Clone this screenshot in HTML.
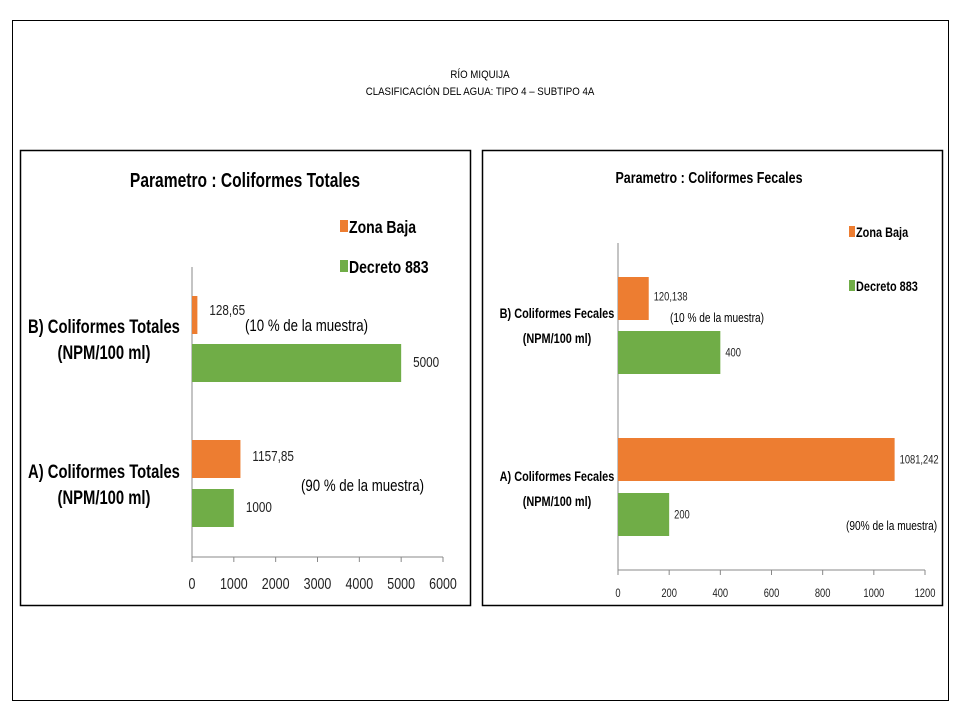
<!DOCTYPE html>
<html><head><meta charset="utf-8"><style>
body{margin:0;background:#fff;}
svg{display:block;font-family:"Liberation Sans Narrow","Liberation Sans",sans-serif;}
</style></head><body>
<svg id="s" width="960" height="720" viewBox="0 0 960 720">
<rect x="12.5" y="20.5" width="936" height="680" fill="#fff" stroke="#000" stroke-width="1"/>
<text x="480" y="78" font-size="11" text-anchor="middle" transform="translate(480,0) scale(0.88,1) translate(-480,0)">RÍO MIQUIJA</text>
<text x="480" y="95" font-size="11" text-anchor="middle" transform="translate(480,0) scale(0.88,1) translate(-480,0)">CLASIFICACIÓN DEL AGUA: TIPO 4 – SUBTIPO 4A</text>
<rect x="20.5" y="150.5" width="450" height="455" fill="#fff" stroke="#000" stroke-width="1.5"/>
<rect x="482.5" y="150.5" width="460" height="455" fill="#fff" stroke="#000" stroke-width="1.5"/>
<g id="c1"></g><g id="c2"></g>
</svg>
<script>
const NS="http://www.w3.org/2000/svg";
// Chart 1 data
const cats1=["B) Coliformes Totales","A) Coliformes Totales"];
const zona1=[128.65,1157.85];
const decreto1=[5000,1000];
const zonaLbl1=["128,65","1157,85"];
const decretoLbl1=["5000","1000"];
const ticks1=[0,1000,2000,3000,4000,5000,6000];
// Chart 2 data
const cats2=["B) Coliformes Fecales","A) Coliformes Fecales"];
const zona2=[120.138,1081.242];
const decreto2=[400,200];
const zonaLbl2=["120,138","1081,242"];
const decretoLbl2=["400","200"];
const ticks2=[0,200,400,600,800,1000,1200];

const K=0.78;
function mk(parent,tag,attrs,text){const e=document.createElementNS(NS,tag);for(const k in attrs)e.setAttribute(k,attrs[k]);if(text!==undefined){e.textContent=text;const x=+attrs.x;e.setAttribute("transform",`translate(${x},0) scale(${K},1) translate(${-x},0)`);}parent.appendChild(e);return e;}

function chart(g,cfg){
  const x=v=>cfg.x0+(v/cfg.max)*(cfg.x1-cfg.x0);
  const ax=mk(g,"line",{x1:cfg.x0,y1:cfg.top,x2:cfg.x0,y2:cfg.bot,stroke:"#888"});
  
  
  const bx=mk(g,"line",{x1:cfg.x0,y1:cfg.bot,x2:cfg.x1,y2:cfg.bot,stroke:"#888"});
  
  
  cfg.ticks.forEach(t=>{
    const tl=mk(g,"line",{x1:x(t),y1:cfg.bot,x2:x(t),y2:cfg.bot+5,stroke:"#888"});
    
    
    const tt=mk(g,"text",{x:x(t),y:cfg.tickY,"font-size":cfg.tickFs,"text-anchor":"middle",fill:"#222"},String(t));
    
    
  });
  cfg.cats.forEach((c,i)=>{
    const zy=cfg.zy[i],dy=cfg.dy[i];
    const zb=mk(g,"rect",{x:cfg.x0,y:zy,width:x(cfg.zona[i])-cfg.x0,height:cfg.bh,fill:"#ED7D31"});
    
    
    const db=mk(g,"rect",{x:cfg.x0,y:dy,width:x(cfg.dec[i])-cfg.x0,height:cfg.bh,fill:"#70AD47"});
    
    
    const zl=mk(g,"text",{x:x(cfg.zona[i])+cfg.lo,y:zy+cfg.bh/2+4+cfg.zoff[i],"font-size":cfg.valFs,fill:"#222"},cfg.zl[i]);
    
    
    const dl=mk(g,"text",{x:x(cfg.dec[i])+cfg.lo,y:dy+cfg.bh/2+4,"font-size":cfg.valFs,fill:"#222"},cfg.dl[i]);
    
    
    const c1=mk(g,"text",{x:cfg.catX,y:cfg.catY[i],"font-size":cfg.catFs,"font-weight":"bold","text-anchor":"middle"},c);
    
    
    const c2=mk(g,"text",{x:cfg.catX,y:cfg.catY[i]+cfg.catLh,"font-size":cfg.catFs,"font-weight":"bold","text-anchor":"middle"},"(NPM/100 ml)");
    
    
  });
}

const g1=document.getElementById('c1');
const t1=mk(g1,"text",{x:245,y:187,"font-size":20,"font-weight":"bold","text-anchor":"middle"},"Parametro : Coliformes  Totales");


chart(g1,{x0:192,x1:443,max:6000,top:267,bot:557,ticks:ticks1,tickY:589,tickFs:16,cats:cats1,zona:zona1,dec:decreto1,zl:zonaLbl1,dl:decretoLbl1,zy:[296,440],dy:[344,489],bh:38,lo:12,zoff:[-4,-2],valFs:15,catX:104,catY:[333,478],catLh:26,catFs:19});
const l1=mk(g1,"rect",{x:340,y:220,width:8,height:12,fill:"#ED7D31"});
const l2=mk(g1,"text",{x:349,y:233,"font-size":18,"font-weight":"bold"},"Zona Baja");
const l3=mk(g1,"rect",{x:340,y:260,width:8,height:12,fill:"#70AD47"});
const l4=mk(g1,"text",{x:349,y:273,"font-size":18,"font-weight":"bold"},"Decreto 883");
const a1=mk(g1,"text",{x:245,y:331,"font-size":17},"(10  % de la muestra)");
const a2=mk(g1,"text",{x:301,y:491,"font-size":17},"(90 % de la muestra)");

const g2=document.getElementById('c2');
const t2=mk(g2,"text",{x:709,y:183,"font-size":16,"font-weight":"bold","text-anchor":"middle"},"Parametro : Coliformes  Fecales");


chart(g2,{x0:618,x1:925,max:1200,top:243,bot:570,ticks:ticks2,tickY:597,tickFs:12,cats:cats2,zona:zona2,dec:decreto2,zl:zonaLbl2,dl:decretoLbl2,zy:[277,438],dy:[331,493],bh:43,lo:5,zoff:[-2,0],valFs:12,catX:557,catY:[318,481],catLh:25,catFs:14});
const m1=mk(g2,"rect",{x:849,y:226,width:6,height:11,fill:"#ED7D31"});
const m2=mk(g2,"text",{x:856,y:237,"font-size":14,"font-weight":"bold"},"Zona Baja");
const m3=mk(g2,"rect",{x:849,y:280,width:6,height:11,fill:"#70AD47"});
const m4=mk(g2,"text",{x:856,y:291,"font-size":14,"font-weight":"bold"},"Decreto 883");
const b1=mk(g2,"text",{x:670,y:322,"font-size":13},"(10  % de la muestra)");
const b2=mk(g2,"text",{x:846,y:530,"font-size":13},"(90% de la muestra)");
</script>
</body></html>
